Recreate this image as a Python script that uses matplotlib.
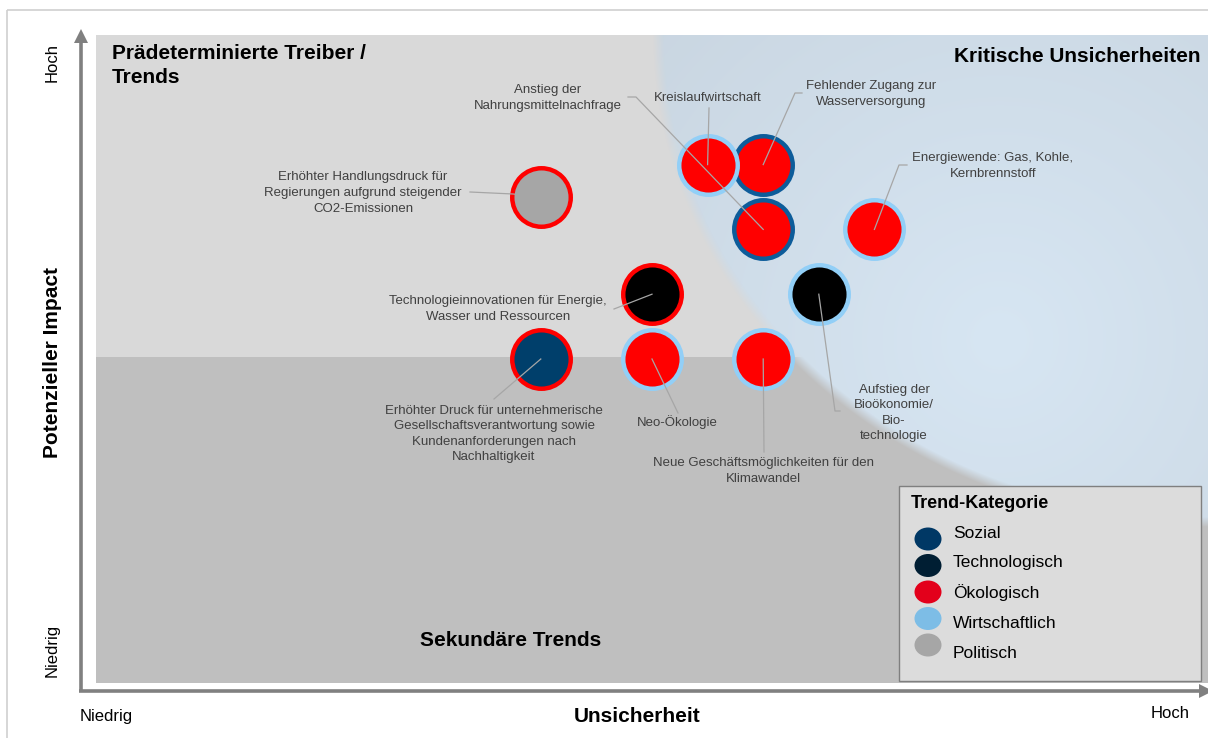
import matplotlib
matplotlib.use("Agg")
import matplotlib.pyplot as plt
import numpy as np
from matplotlib.patches import Rectangle, Ellipse

plt.rcParams["font.family"] = ["Liberation Sans", "DejaVu Sans"]

# --- data -----------------------------------------------------------------
trends = [
    "Fehlender Zugang zur\nWasserversorgung",
    "Kreislaufwirtschaft",
    "Anstieg der\nNahrungsmittelnachfrage",
    "Energiewende: Gas, Kohle,\nKernbrennstoff",
    "Erhöhter Handlungsdruck für\nRegierungen aufgrund steigender\nCO2-Emissionen",
    "Technologieinnovationen für Energie,\nWasser und Ressourcen",
    "Aufstieg der\nBioökonomie/\nBio-\ntechnologie",
    "Erhöhter Druck für unternehmerische\nGesellschaftsverantwortung sowie\nKundenanforderungen nach\nNachhaltigkeit",
    "Neo-Ökologie",
    "Neue Geschäftsmöglichkeiten für den\nKlimawandel",
]
uncertainty = [6.0, 5.5, 6.0, 7.0, 4.0, 5.0, 6.5, 4.0, 5.0, 6.0]
impact = [8.0, 8.0, 7.0, 7.0, 7.5, 6.0, 6.0, 5.0, 5.0, 5.0]
main_category = ["Ökologisch", "Ökologisch", "Ökologisch", "Ökologisch", "Politisch",
                 "Technologisch", "Technologisch", "Sozial", "Ökologisch", "Ökologisch"]
second_category = ["Sozial", "Wirtschaftlich", "Sozial", "Wirtschaftlich", "Ökologisch",
                   "Ökologisch", "Wirtschaftlich", "Ökologisch", "Wirtschaftlich", "Wirtschaftlich"]
categories = ["Sozial", "Technologisch", "Ökologisch", "Wirtschaftlich", "Politisch"]

# --- styles -----------------------------------------------------------------
fill_colors = {"Sozial": "#003f6b", "Technologisch": "#000000", "Ökologisch": "#ff0000",
               "Wirtschaftlich": "#92cff7", "Politisch": "#a6a6a6"}
ring_colors = {"Sozial": "#0d5c9a", "Technologisch": "#000000", "Ökologisch": "#ff0000",
               "Wirtschaftlich": "#92cff7", "Politisch": "#a6a6a6"}
legend_colors = {"Sozial": "#003865", "Technologisch": "#001e33", "Ökologisch": "#e3001b",
                 "Wirtschaftlich": "#7dbde6", "Politisch": "#a6a6a6"}

W, H = 1208, 738
PX0, PX1, PY0, PY1 = 96, 1208, 35, 683  # panel in pixels


def to_data(px, py):
    return (px - PX0) / (PX1 - PX0) * 10, (PY1 - py) / (PY1 - PY0) * 10


# label centre and leader start (pixels), same order as trends
label_pos = [(871, 94), (708, 98), (548, 98), (993, 166), (363, 193),
             (498, 309), (894, 413), (494, 434), (677, 422), (763, 471)]
leader_pts = [
    [(802, 93), (795, 93)],
    [(709, 108)],
    [(628, 97), (636, 97)],
    [(907, 165), (899, 165)],
    [(470, 192), (513, 194)],
    [(614, 309)],
    [(840, 411), (835, 411)],
    [(494, 399)],
    [(678, 413)],
    [(764, 452)],
]

fig = plt.figure(figsize=(W / 100, H / 100), dpi=100)
bg = fig.add_axes([0, 0, 1, 1])
bg.set_xlim(0, W)
bg.set_ylim(H, 0)
bg.axis("off")

# outer frame
bg.add_patch(Rectangle((7, 10), 1400, 900, fill=False, edgecolor="#d0d0d0", lw=1.2))

# quadrant panels
bg.add_patch(Rectangle((PX0, PY0), PX1 - PX0, 357 - PY0, facecolor="#d9d9d9", lw=0))
bg.add_patch(Rectangle((PX0, 357), PX1 - PX0, PY1 - 357, facecolor="#bfbfbf", lw=0))

# blue quarter ellipse with radial gradient
xs = np.arange(PX0, PX1) + 0.5
ys = np.arange(PY0, PY1) + 0.5
gx, gy = np.meshgrid(xs, ys)
rho = np.sqrt(((gx - 1208) / 555) ** 2 + ((gy - 35) / 492) ** 2)
dist = np.clip(np.hypot(gx - 1000, gy - 340) / 560, 0, 1)
light = np.array([0.843, 0.902, 0.953])
dark = np.array([0.780, 0.827, 0.870])
rgba = np.zeros(gx.shape + (4,))
rgba[..., :3] = light + (dark - light) * dist[..., None]
rgba[..., 3] = np.clip((1 - rho) / 0.02, 0, 1)
bg.imshow(rgba, extent=(PX0, PX1, PY1, PY0), interpolation="bilinear", zorder=1, aspect="auto")
bg.set_xlim(0, W)
bg.set_ylim(H, 0)

# axis arrows
gray = "#808080"
bg.plot([81, 81], [691, 42], color=gray, lw=2.6, solid_capstyle="butt", zorder=3)
bg.fill([74, 88, 81], [43, 43, 29], color=gray, lw=0, zorder=3)
bg.plot([79, 1200], [691, 691], color=gray, lw=2.6, solid_capstyle="butt", zorder=3)
bg.fill([1199, 1199, 1213], [684, 698, 691], color=gray, lw=0, zorder=3)

# axis texts
bg.text(52, 63, "Hoch", rotation=90, ha="center", va="center", fontsize=12)
bg.text(52, 650, "Niedrig", rotation=90, ha="center", va="center", fontsize=12)
bg.text(53, 362, "Potenzieller Impact", rotation=90, ha="center", va="center",
        fontsize=15, fontweight="bold")
bg.text(80, 717, "Niedrig", ha="left", va="center", fontsize=12)
bg.text(1170, 713, "Hoch", ha="center", va="center", fontsize=12)
bg.text(637, 716, "Unsicherheit", ha="center", va="center", fontsize=15, fontweight="bold")

# quadrant headings
bg.text(112, 44, "Prädeterminierte Treiber /\nTrends", ha="left", va="top",
        fontsize=15, fontweight="bold", linespacing=1.32, zorder=4)
bg.text(1201, 57, "Kritische Unsicherheiten", ha="right", va="center",
        fontsize=15, fontweight="bold", zorder=4)
bg.text(511, 641, "Sekundäre Trends", ha="center", va="center",
        fontsize=15, fontweight="bold", zorder=4)

# bubbles
ax = fig.add_axes([PX0 / W, 1 - PY1 / H, (PX1 - PX0) / W, (PY1 - PY0) / H])
ax.set_xlim(0, 10)
ax.set_ylim(0, 10)
ax.axis("off")
ax.patch.set_alpha(0)

for i in range(len(trends)):
    ax.scatter(uncertainty[i], impact[i], s=1775, color=fill_colors[main_category[i]],
               edgecolors=ring_colors[second_category[i]], linewidths=3.2,
               zorder=3 + i * 0.01, clip_on=False)

for i, name in enumerate(trends):
    pts = [to_data(*p) for p in leader_pts[i]] + [(uncertainty[i], impact[i])]
    lx, ly = zip(*pts)
    ax.plot(lx, ly, color="#a6a6a6", lw=0.9, zorder=5, clip_on=False)
    tx, ty = to_data(*label_pos[i])
    ax.text(tx, ty, name, ha="center", va="center", multialignment="center",
            fontsize=9.5, color="#404040", linespacing=1.4, zorder=6)

# legend box
bg.add_patch(Rectangle((899, 486), 302, 195, facecolor="#dcdcdc", edgecolor="#7f7f7f",
                       lw=1.0, zorder=6))
bg.text(911, 503, "Trend-Kategorie", ha="left", va="center", fontsize=13,
        fontweight="bold", zorder=7)
for k, cat in enumerate(categories):
    my = 539 + k * 26.5
    bg.add_patch(Ellipse((928, my), 27, 23, facecolor=legend_colors[cat], lw=0, zorder=7))
    bg.text(953, 533 + k * 30, cat, ha="left", va="center", fontsize=12.5, zorder=7)

fig.savefig("out.png", dpi=100)
